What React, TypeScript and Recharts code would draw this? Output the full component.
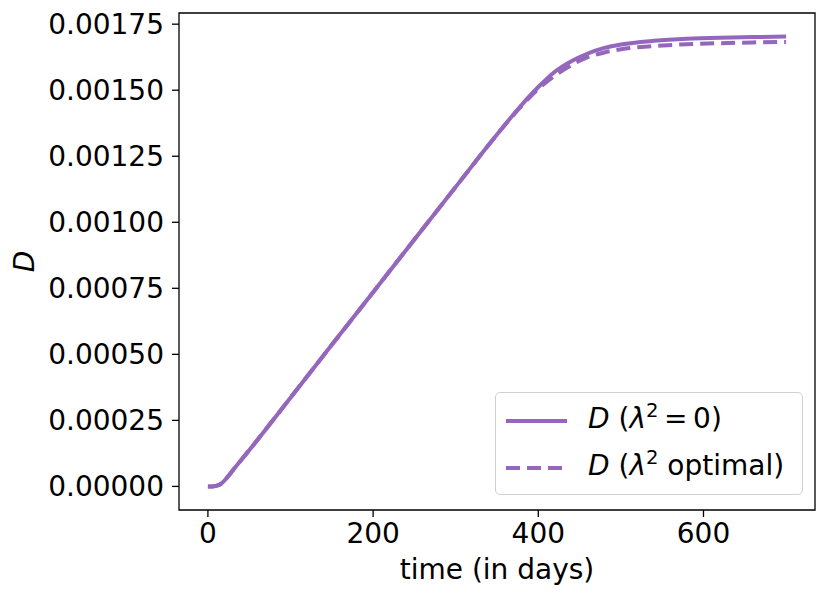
import React from 'react';
import { LineChart, Line, XAxis, YAxis, ReferenceArea } from 'recharts';

// time in days and the two D curves
const days = [0, 5, 10, 15, 20, 25, 30, 50, 100, 150, 200, 250, 300, 350, 380, 400, 420, 440, 460, 480, 500, 540, 580, 620, 660, 700];
const dLambdaZero = [
  0, 0, 0.000002, 0.000008, 0.000022, 0.00004, 0.00006, 0.000137, 0.000336, 0.000536, 0.000735, 0.000935,
  0.001134, 0.001332, 0.001445, 0.001512, 0.00157, 0.00161, 0.001639, 0.00166, 0.001673, 0.001687, 0.001695,
  0.001699, 0.001701, 0.001703,
];
const dLambdaOptimal = [
  0, 0, 0.000002, 0.000008, 0.000022, 0.00004, 0.00006, 0.000137, 0.000336, 0.000536, 0.000735, 0.000935,
  0.001134, 0.001332, 0.001442, 0.001505, 0.001555, 0.001595, 0.001625, 0.001643, 0.001655, 0.001667, 0.001674,
  0.001678, 0.001681, 0.001683,
];
const xTicks = [0, 200, 400, 600];
const yTicks = [0, 0.00025, 0.0005, 0.00075, 0.001, 0.00125, 0.0015, 0.00175];

const data = days.map((t, i) => ({ t, zero: dLambdaZero[i], optimal: dLambdaOptimal[i] }));

const X_DOMAIN: [number, number] = [-35, 735];
const Y_DOMAIN: [number, number] = [-0.0000893, 0.0017923];
const PURPLE = '#9467bd';
const FONT = '"DejaVu Sans", sans-serif';
const LINE_W = 4;
const DASH = '14 7';

const Sup = ({ children }: { children: React.ReactNode }) => (
  <span style={{ fontSize: '0.7em', position: 'relative', top: '-0.55em' }}>{children}</span>
);

const LegendBox = () => {
  const row = (dash: string | undefined, label: React.ReactNode) => (
    <div style={{ display: 'flex', alignItems: 'center', height: 47 }}>
      <svg width={61} height={10} style={{ marginRight: 21 }}>
        <line x1={0} y1={5} x2={61} y2={5} stroke={PURPLE} strokeWidth={LINE_W} strokeDasharray={dash} />
      </svg>
      <span style={{ whiteSpace: 'nowrap', lineHeight: '28px' }}>{label}</span>
    </div>
  );
  return (
    <div
      style={{
        position: 'absolute',
        left: 495,
        top: 392,
        boxSizing: 'border-box',
        width: 308,
        height: 103,
        border: '1.3px solid #d0d0d0',
        borderRadius: 5,
        background: 'rgba(255,255,255,0.8)',
        padding: '4px 0 0 10px',
        fontFamily: FONT,
        fontSize: 28,
        color: '#000',
      }}
    >
      {row(undefined, <><i>D</i> (<i>λ</i><Sup>2</Sup>&thinsp;=&thinsp;0)</>)}
      {row(DASH, <><i>D</i> (<i>λ</i><Sup>2</Sup> optimal)</>)}
    </div>
  );
};

export default function App() {
  return (
    <div style={{ position: 'absolute', left: 0, top: 0, width: 830, height: 598, background: '#fff' }}>
      <LineChart width={830} height={598} data={data} margin={{ top: 13, right: 15, bottom: 0, left: 0 }}>
        <ReferenceArea
          x1={X_DOMAIN[0]}
          x2={X_DOMAIN[1]}
          y1={Y_DOMAIN[0]}
          y2={Y_DOMAIN[1]}
          fill="none"
          stroke="#000"
          strokeWidth={1.3}
          strokeOpacity={1}
        />
        <XAxis
          dataKey="t"
          type="number"
          domain={X_DOMAIN}
          ticks={xTicks}
          allowDataOverflow
          height={88}
          axisLine={false}
          tickLine={{ stroke: '#000', strokeWidth: 1.3 }}
          tickSize={7}
          tickMargin={6}
          tick={{ fill: '#000', fontSize: 28, fontFamily: FONT }}
          label={(props: any) => {
            const vb = props.viewBox;
            return (
              <text x={vb.x + vb.width / 2} y={579} textAnchor="middle" fontSize={28} fontFamily={FONT} fill="#000">
                time (in days)
              </text>
            );
          }}
        />
        <YAxis
          type="number"
          domain={Y_DOMAIN}
          ticks={yTicks}
          allowDataOverflow
          width={179}
          axisLine={false}
          tickLine={{ stroke: '#000', strokeWidth: 1.3 }}
          tickSize={7}
          tickMargin={8}
          tickFormatter={(v: number) => v.toFixed(5)}
          tick={{ fill: '#000', fontSize: 28, fontFamily: FONT }}
          label={(props: any) => {
            const vb = props.viewBox;
            const cy = vb.y + vb.height / 2;
            return (
              <text
                x={24}
                y={cy}
                transform={`rotate(-90, 24, ${cy})`}
                textAnchor="middle"
                dominantBaseline="central"
                fontSize={28}
                fontStyle="italic"
                fontFamily={FONT}
                fill="#000"
              >
                D
              </text>
            );
          }}
        />
        <Line
          type="monotone"
          dataKey="zero"
          stroke={PURPLE}
          strokeWidth={LINE_W}
          dot={false}
          isAnimationActive={false}
        />
        <Line
          type="monotone"
          dataKey="optimal"
          stroke={PURPLE}
          strokeWidth={LINE_W}
          strokeDasharray={DASH}
          dot={false}
          isAnimationActive={false}
        />
      </LineChart>
      <LegendBox />
    </div>
  );
}
